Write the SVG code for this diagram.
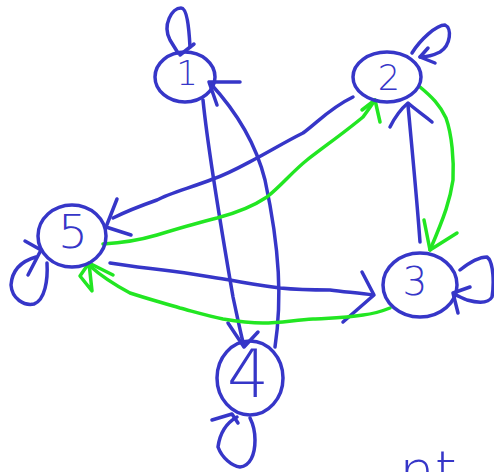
<svg xmlns="http://www.w3.org/2000/svg" width="494" height="472" viewBox="0 0 494 472">
<style>
.b{fill:none;stroke:#3636c8;stroke-width:3.5;stroke-linecap:round;stroke-linejoin:round}
.g{fill:none;stroke:#22e622;stroke-width:3.5;stroke-linecap:round;stroke-linejoin:round}
.t{fill:#3636c8;font-family:"DejaVu Sans","Liberation Sans",sans-serif;font-weight:200;text-anchor:middle}
</style>
<rect width="494" height="472" fill="#ffffff"/>
<g id="connectors">
  <!-- 1 -> 4 -->
  <path class="b" d="M203,100 C208,150 218,210 233,297 C238,320 241,335 244,346"/>
  <path class="b" d="M228,323 L244,347 L258,332"/>
  <!-- 4 -> 1 -->
  <path class="b" d="M275,347 C282,300 280,250 265,180 C255,140 235,110 210,83"/>
  <path class="b" d="M217,105 L209,82 L240,82"/>
  <!-- 3 -> 2 -->
  <path class="b" d="M420,242 C417,200 413,160 408,105"/>
  <path class="b" d="M390,127 C396,115 402,108 408,103 C416,110 425,116 432,122"/>
  <!-- 2 -> 5 -->
  <path class="b" d="M353,97 C330,108 318,122 303,133 C285,142 272,150 257,158 C240,167 228,174 213,179 C190,188 170,193 157,200 C140,206 125,212 113,218"/>
  <path class="b" d="M117,199 L106,227 L131,235"/>
  <!-- 5 -> 3 -->
  <path class="b" d="M110,263 C130,266 145,268 163,270 C190,273 210,277 230,280 C250,284 265,286 280,288 C300,290 315,290 330,290 C345,292 360,293 373,295"/>
  <path class="b" d="M362,272 L374,295 L343,322"/>
  <!-- 2 -> 3 green -->
  <path class="g" d="M420,87 C432,97 440,105 446,118 C452,135 454,160 453,180 C450,200 445,215 430,250"/>
  <path class="g" d="M424,220 L430,250 L457,233"/>
  <!-- 5 -> 2 green -->
  <path class="g" d="M103,244 C120,243 140,240 157,235 C180,228 200,222 217,218 C240,212 255,205 267,197 C282,185 292,172 307,160 C325,146 345,132 363,117 C368,110 371,106 375,100"/>
  <path class="g" d="M362,110 L375,100 L380,122"/>
  <!-- 3 -> 5 green -->
  <path class="g" d="M390,308 C380,312 372,314 363,315 C345,318 330,318 313,319 C295,320 280,323 263,323 C248,323 235,321 223,319 C208,316 195,312 180,308 C160,302 145,298 130,293 C115,285 100,275 90,266"/>
  <path class="g" d="M113,275 L89,263 L80,276 L92,291 L89,263"/>
</g>
<g id="node1">
  <ellipse class="b" cx="185" cy="77" rx="30" ry="25"/>
  <path class="b" d="M190,47 C189,28 187,8 181,8 C172,8 162,25 170,40 L178,53"/>
  <path class="b" d="M194,44 L180,55"/>
  <text class="t" x="187" y="85" font-size="34">1</text>
</g>
<g id="node2">
  <ellipse class="b" cx="387" cy="77" rx="34" ry="25"/>
  <path class="b" d="M412,53 C420,40 436,25 445,25 C452,28 451,45 440,52 C432,56 425,57 420,57"/>
  <path class="b" d="M428,48 L420,57 L435,63"/>
  <text class="t" x="389" y="90" font-size="35">2</text>
</g>
<g id="node5">
  <ellipse class="b" cx="72" cy="236" rx="34" ry="31"/>
  <path class="b" d="M36,257 C22,261 12,270 11,285 C12,299 24,306 34,304 C45,300 48,280 47,263"/>
  <path class="b" d="M25,241 L41,250 L28,275"/>
  <text class="t" x="73" y="248" font-size="47">5</text>
</g>
<g id="node3">
  <ellipse class="b" cx="420" cy="285" rx="37" ry="32"/>
  <path class="b" d="M460,270 C470,262 480,257 487,257 C494,262 494,285 492,297 C488,304 478,303 467,300 C462,298 458,296 454,294"/>
  <path class="b" d="M470,287 L453,293 L458,313"/>
  <text class="t" x="415" y="295" font-size="39">3</text>
</g>
<g id="node4">
  <ellipse class="b" cx="250" cy="378" rx="33" ry="37"/>
  <path class="b" d="M237,417 C228,422 220,432 218,447 C222,458 232,466 240,467 C250,466 255,455 255,440 C255,430 253,424 250,418"/>
  <path class="b" d="M212,420 L232,414 L238,423"/>
  <text class="t" x="248" y="397" font-size="66">4</text>
</g>
<text class="t" x="428" y="490" font-size="56">nt</text>
</svg>
